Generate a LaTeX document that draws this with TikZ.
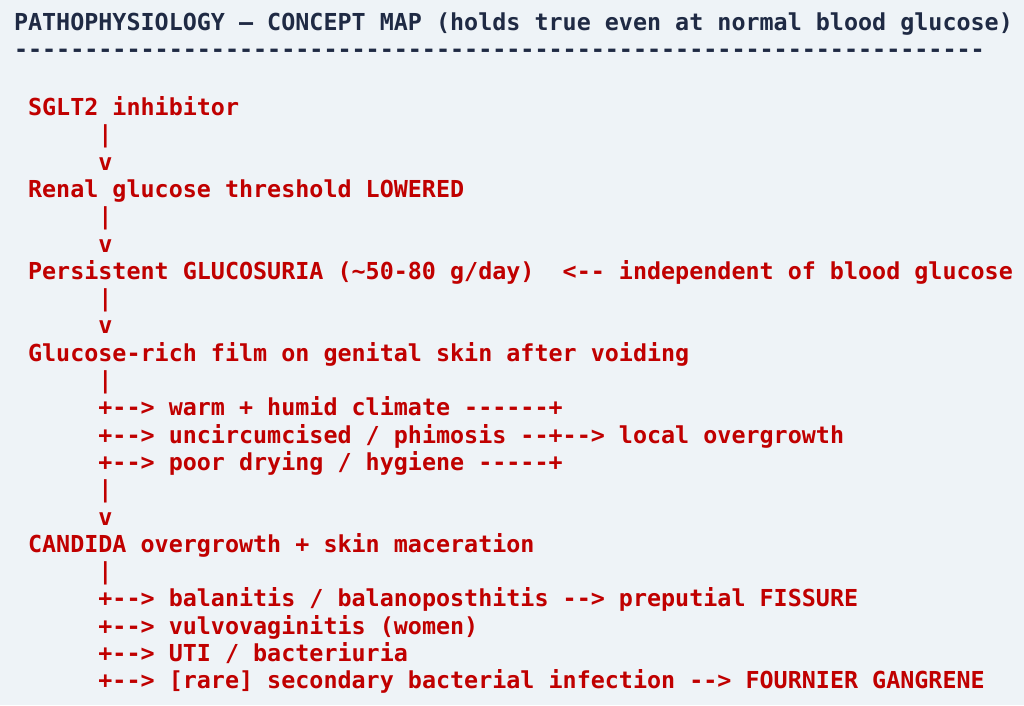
\documentclass[tikz,border=0pt]{standalone}
\usepackage{fontspec}
\setmonofont{DejaVu Sans Mono}
\definecolor{mapRed}{RGB}{192,0,0}
\definecolor{mapNavy}{RGB}{31,42,68}
\definecolor{mapBack}{RGB}{238,243,247}
\tikzset{
	mapLine/.style={anchor=base west, inner sep=0pt, outer sep=0pt, font=\fontsize{23.37}{27.3}\selectfont\ttfamily\bfseries, text=mapRed},
	mapHead/.style={mapLine, text=mapNavy}
}
\begin{document}
\begin{tikzpicture}[x=1pt, y=1pt]
		% background and frame
		\fill[mapBack] (0,0) rectangle (1024,-705);
		\useasboundingbox (0,0) rectangle (1024,-705);

		% title
		\node[mapHead](title) at (14,-30.5){PATHOPHYSIOLOGY — CONCEPT MAP (holds true even at normal blood glucose)};
		\node[mapHead](rule) at (14,-57){---------------------------------------------------------------------};

		% main chain
		\node[mapLine](sglt) at (28.07,-115.5){SGLT2 inhibitor};
		\node[mapLine](barA) at (98.42,-142.8){|};
		\node[mapLine](tipA) at (98.42,-170.1){v};
		\node[mapLine](renal) at (28.07,-197.4){Renal glucose threshold LOWERED};
		\node[mapLine](barB) at (98.42,-224.7){|};
		\node[mapLine](tipB) at (98.42,-252.0){v};
		\node[mapLine](glucosuria) at (28.07,-279.3){Persistent GLUCOSURIA (\textasciitilde 50-80 g/day)\ \ <-- independent of blood glucose};
		\node[mapLine](barC) at (98.42,-306.6){|};
		\node[mapLine](tipC) at (98.42,-333.9){v};
		\node[mapLine](film) at (28.07,-361.2){Glucose-rich film on genital skin after voiding};
		\node[mapLine](barD) at (98.42,-388.5){|};

		% risk factors
		\node[mapLine](warm) at (98.42,-415.8){+--> warm + humid climate ------+};
		\node[mapLine](phimosis) at (98.42,-443.1){+--> uncircumcised / phimosis --+--> local overgrowth};
		\node[mapLine](hygiene) at (98.42,-470.4){+--> poor drying / hygiene -----+};
		\node[mapLine](barE) at (98.42,-497.7){|};
		\node[mapLine](tipE) at (98.42,-525.0){v};
		\node[mapLine](candida) at (28.07,-552.3){CANDIDA overgrowth + skin maceration};
		\node[mapLine](barF) at (98.42,-579.6){|};

		% outcomes
		\node[mapLine](balanitis) at (98.42,-606.9){+--> balanitis / balanoposthitis --> preputial FISSURE};
		\node[mapLine](vulvo) at (98.42,-634.2){+--> vulvovaginitis (women)};
		\node[mapLine](uti) at (98.42,-661.5){+--> UTI / bacteriuria};
		\node[mapLine](fournier) at (98.42,-688.8){+--> [rare] secondary bacterial infection --> FOURNIER GANGRENE};
\end{tikzpicture}
\end{document}
